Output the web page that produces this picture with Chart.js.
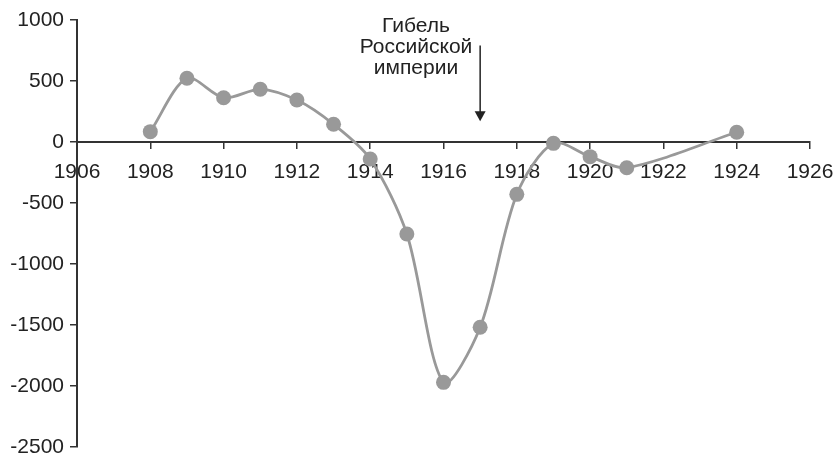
<!DOCTYPE html>
<html>
<head>
<meta charset="utf-8">
<script src="https://cdn.jsdelivr.net/npm/chart.js@4.4.1/dist/chart.umd.min.js"></script>
<style>
  html, body { margin: 0; padding: 0; background: #fff; }
  #wrap { width: 835px; height: 456px; }
</style>
</head>
<body>
<div id="wrap"><canvas id="chart"></canvas></div>
<script>
const years = [1908, 1909, 1910, 1911, 1912, 1913, 1914, 1915, 1916, 1917, 1918, 1919, 1920, 1921, 1924];
const values = [85, 522, 363, 432, 344, 145, -139, -754, -1970, -1519, -429, -11, -120, -211, 80];
const xTicks = [1906, 1908, 1910, 1912, 1914, 1916, 1918, 1920, 1922, 1924, 1926];
const yTicks = [1000, 500, 0, -500, -1000, -1500, -2000, -2500];

// annotation: arrow pointing at 1917
const noteLines = ['Гибель', 'Российской', 'империи'];
const noteYear = 1917;

const FONT = '"Liberation Sans", Arial, sans-serif';
const INK = '#222';

const annotationPlugin = {
    id: 'note',
    afterDatasetsDraw(chart) {
        const { ctx, scales } = chart;
        const ax = scales.x.getPixelForValue(noteYear);
        const top = scales.y.getPixelForValue(790);
        const tip = scales.y.getPixelForValue(170);
        ctx.save();
        ctx.strokeStyle = INK;
        ctx.fillStyle = INK;
        ctx.lineWidth = 1.5;
        ctx.beginPath();
        ctx.moveTo(ax, top);
        ctx.lineTo(ax, tip - 6);
        ctx.stroke();
        ctx.beginPath();
        ctx.moveTo(ax - 5.5, tip - 10);
        ctx.lineTo(ax + 5.5, tip - 10);
        ctx.lineTo(ax, tip);
        ctx.closePath();
        ctx.fill();

        ctx.font = '21px ' + FONT;
        ctx.textAlign = 'center';
        ctx.textBaseline = 'alphabetic';
        const tx = scales.x.getPixelForValue(1915.25);
        const ty = scales.y.getPixelForValue(905);
        noteLines.forEach((line, i) => ctx.fillText(line, tx, ty + i * 21));
        ctx.restore();
    }
};

new Chart(document.getElementById('chart'), {
    type: 'line',
    data: {
        datasets: [{
            data: years.map((y, i) => ({ x: y, y: values[i] })),
            borderColor: '#999999',
            backgroundColor: '#999999',
            borderWidth: 2.8,
            pointRadius: 7.5,
            pointBorderWidth: 0,
            pointBackgroundColor: '#999999',
            tension: 0.3,
            fill: false
        }]
    },
    options: {
        responsive: true,
        maintainAspectRatio: false,
        animation: false,
        layout: { padding: { top: 20, right: 25, bottom: 9, left: 0 } },
        plugins: { legend: { display: false }, tooltip: { enabled: false } },
        scales: {
            x: {
                type: 'linear',
                position: { y: 0 },
                min: 1906,
                max: 1926,
                afterBuildTicks: scale => { scale.ticks = xTicks.map(v => ({ value: v })); },
                afterFit: scale => {
                    scale.height = 0;
                    scale.paddingLeft = 0;
                    scale.paddingRight = 0;
                },
                ticks: {
                    color: INK,
                    font: { family: FONT, size: 21 },
                    padding: 12,
                    maxRotation: 0,
                    callback: v => String(v)
                },
                grid: { drawOnChartArea: false, drawTicks: true, tickLength: 6, color: '#333', lineWidth: 1.5 },
                border: { display: true, color: '#333', width: 2 }
            },
            y: {
                min: -2500,
                max: 1000,
                afterBuildTicks: scale => { scale.ticks = yTicks.map(v => ({ value: v })); },
                afterFit: scale => {
                    scale.width = 77;
                    scale.paddingTop = 0;
                    scale.paddingBottom = 0;
                },
                ticks: {
                    color: INK,
                    font: { family: FONT, size: 21 },
                    padding: 6,
                    callback: v => String(v)
                },
                grid: { drawOnChartArea: false, drawTicks: true, tickLength: 7, color: '#333', lineWidth: 1.5 },
                border: { display: true, color: '#333', width: 2 }
            }
        }
    },
    plugins: [annotationPlugin]
});
</script>
</body>
</html>
